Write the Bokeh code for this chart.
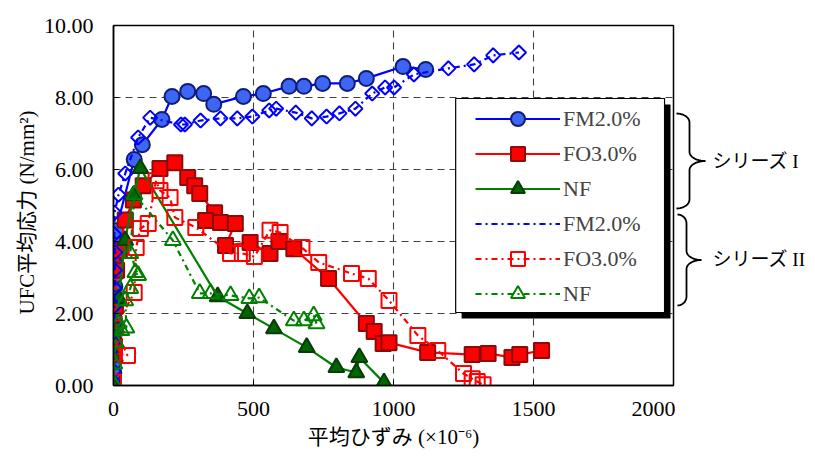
import numpy as np
from bokeh.plotting import figure
from bokeh.layouts import row
from bokeh.core.properties import value
from bokeh.models import (Range1d, Legend, LegendItem, BoxAnnotation,
                          NumeralTickFormatter, FixedTicker)
from bokeh.embed import file_html
from bokeh.resources import INLINE

# ---------------- data ----------------
x_ticks = [0, 500, 1000, 1500, 2000]
y_ticks = [0, 2, 4, 6, 8, 10]

fm1_x = [0, 1, 1, 2, 2, 3, 3, 4, 4, 5, 5, 6, 6, 7, 8, 74, 103, 173, 209, 265, 322, 358,
         464, 535, 627, 680, 747, 835, 903, 1034, 1115]
fm1_y = [0.05, 0.35, 0.65, 0.95, 1.25, 1.55, 1.85, 2.15, 2.45, 2.75, 3.05, 3.35, 3.65, 3.95,
         4.3, 6.28, 6.69, 7.39, 8.03, 8.17, 8.11, 7.81, 8.03, 8.11, 8.31, 8.31, 8.39, 8.39,
         8.53, 8.86, 8.78]

fo1_x = [0, 3, 7, 11, 21, 42, 71, 106, 166, 219, 265, 290, 308, 361, 329, 382, 435, 400,
         488, 559, 591, 644, 768, 903, 931, 963, 984, 1122, 1281, 1338, 1423, 1451, 1529]
fo1_y = [0.0, 1.1, 2.2, 3.2, 3.75, 4.6, 5.15, 5.55, 6.03, 6.19, 5.78, 5.55, 5.33, 4.8, 4.58,
         4.53, 4.5, 3.89, 3.97, 3.67, 4.0, 3.8, 2.97, 1.72, 1.5, 1.17, 1.19, 0.92, 0.86, 0.89,
         0.78, 0.86, 0.97]

nf1_x = [0, 5, 10, 18, 42, 71, 96, 372, 478, 573, 690, 796, 867, 878, 966]
nf1_y = [0.0, 0.8, 1.6, 2.42, 4.03, 5.28, 6.03, 2.47, 2.0, 1.58, 1.06, 0.5, 0.36, 0.78, 0.08]

fm2_x = [0, 1, 2, 2, 3, 3, 4, 5, 6, 3, 4, 18, 42, 88, 131, 241, 255, 311, 382, 442, 496,
         556, 581, 651, 708, 761, 807, 864, 924, 970, 1002, 1073, 1196, 1288, 1356, 1448]
fm2_y = [0.1, 0.4, 0.8, 1.2, 1.7, 2.2, 2.7, 3.2, 3.7, 4.2, 4.8, 5.3, 5.89, 6.89, 7.44, 7.25,
         7.25, 7.36, 7.42, 7.42, 7.47, 7.64, 7.69, 7.58, 7.42, 7.47, 7.56, 7.69, 8.11, 8.28,
         8.28, 8.64, 8.81, 8.92, 9.17, 9.25]

fo2_x = [0, 3, 50, 6, 74, 81, 96, 124, 152, 166, 202, 219, 294, 418, 460, 503, 559, 595,
         673, 733, 850, 910, 984, 1087, 1158, 1250, 1281, 1299, 1320]
fo2_y = [0.1, 0.9, 0.83, 1.6, 2.58, 3.83, 4.36, 4.5, 5.69, 5.42, 5.22, 4.67, 4.39, 3.67,
         3.67, 3.58, 4.31, 4.25, 3.83, 3.42, 3.11, 2.97, 2.36, 1.39, 0.97, 0.33, 0.19, 0.11,
         0.02]

nf2_x = [0, 3, 8, 18, 28, 46, 42, 60, 78, 88, 60, 75, 212, 308, 347, 418, 485, 520, 644,
         680, 715, 725]
nf2_y = [0.05, 0.6, 1.2, 1.72, 1.53, 1.6, 2.36, 2.7, 3.14, 3.06, 3.67, 5.3, 4.03, 2.56,
         2.56, 2.5, 2.42, 2.44, 1.8, 1.8, 1.94, 1.72]

labels = ["FM2.0%", "FO3.0%", "NF", "FM2.0%", "FO3.0%", "NF"]
series_names = ["シリーズ I", "シリーズ II"]
x_label = "平均ひずみ (×10⁻⁶)"
y_label = "UFC平均応力 (N/mm²)"

# ---------------- layout ----------------
H = 458
W0 = 40                     # left panel holding the y-axis title
FRAME_LEFT, MT = 110, 25    # page position of the plotting frame
FW, FH = 563, 360
ML = FRAME_LEFT - W0
MR = 2
MB = H - MT - FH
W1 = ML + FW + MR
W2 = 130

SERIF = "'Liberation Serif', 'Noto Sans CJK JP'"

p = figure(width=W1, height=H, x_range=Range1d(0, 2000), y_range=Range1d(0, 10),
           output_backend="svg", toolbar_location=None,
           min_border_left=ML, min_border_right=MR, min_border_top=MT, min_border_bottom=MB,
           x_axis_label=x_label)

PX0, PY0 = FRAME_LEFT, MT
SX = FW / 2000.0
SY = FH / 10.0
def dx(px):
    return (px - PX0) / SX
def dy(py):
    return (PY0 + FH - py) / SY

p.outline_line_color = "black"
p.outline_line_width = 1.5
p.background_fill_color = "white"
p.border_fill_color = "white"

for g in (p.xgrid, p.ygrid):
    g.grid_line_color = "#404040"
    g.grid_line_dash = "7 5"
    g.grid_line_width = 1.1
p.xaxis.ticker = FixedTicker(ticks=x_ticks)
p.yaxis.ticker = FixedTicker(ticks=y_ticks)
p.xgrid.ticker = FixedTicker(ticks=x_ticks)
p.ygrid.ticker = FixedTicker(ticks=y_ticks)
p.yaxis.formatter = NumeralTickFormatter(format="0.00")

for ax in (p.xaxis[0], p.yaxis[0]):
    ax.major_label_text_font = SERIF
    ax.major_label_text_font_size = "22px"
    ax.major_label_text_color = "black"
    ax.major_tick_in = 5
    ax.major_tick_out = 0
    ax.minor_tick_in = 0
    ax.minor_tick_out = 0
    ax.axis_line_color = "black"
    ax.axis_line_width = 1.5
    ax.major_tick_line_color = "black"
    ax.axis_label_text_font = SERIF
    ax.axis_label_text_font_size = "21px"
    ax.axis_label_text_font_style = "normal"
    ax.axis_label_text_color = "black"
p.xaxis.major_label_standoff = 16
p.yaxis.major_label_standoff = 20
p.xaxis.axis_label_standoff = 6

DASH = "6 4 2 4"

def series(x, y, color, marker, size, fill, mline, dash="solid", angle=0.0, fill_alpha=1.0):
    lr = p.line(x, y, line_color=color, line_width=2.2, line_dash=dash)
    sr = p.scatter(x, y, marker=marker, size=size, fill_color=fill, fill_alpha=fill_alpha,
                   line_color=mline, line_width=2, angle=angle)
    return [lr, sr]

r1 = series(fm1_x, fm1_y, "#0000FF", "circle", 15, "#3D66F5", "#101C78")
r2 = series(fo1_x, fo1_y, "#FF0000", "square", 15, "#FF0000", "#8B0A0A")
r3 = series(nf1_x, nf1_y, "#008000", "triangle", 16, "#006400", "#0A3A0A")
r4 = series(fm2_x, fm2_y, "#0000FF", "square", 10, "white", "#0000FF", DASH,
            angle=np.pi / 4, fill_alpha=0.0)
r5 = series(fo2_x, fo2_y, "#FF0000", "square", 15, "white", "#FF0000", DASH, fill_alpha=0.0)
r6 = series(nf2_x, nf2_y, "#008000", "triangle", 16, "white", "#008000", DASH, fill_alpha=0.0)

# legend-only diamond sample (the legend draws markers without rotation)
r4_leg = p.scatter([], [], marker="diamond", size=15, fill_color="white", line_color="#0000FF",
                   line_width=2)

# legend box with shadow
shadow = BoxAnnotation(left=dx(460), right=dx(670), top=dy(104), bottom=dy(318),
                       fill_color="black", fill_alpha=1.0, line_alpha=0.0)
lbox = BoxAnnotation(left=dx(454), right=dx(664), top=dy(98), bottom=dy(312),
                     fill_color="white", fill_alpha=1.0, line_color="black",
                     line_width=1.2, line_alpha=1.0)
p.add_layout(shadow)
p.add_layout(lbox)

rend_sets = [r1, r2, r3, [r4[0], r4_leg], r5, r6]
items = [LegendItem(label=l, renderers=r) for l, r in zip(labels, rend_sets)]
leg = Legend(items=items, location=(472 - PX0, PY0 + FH - 311), glyph_width=85,
             glyph_height=35, label_height=35, spacing=0, padding=0, margin=0,
             label_standoff=3, label_text_font=SERIF, label_text_font_size="22px",
             border_line_alpha=0.0, background_fill_alpha=0.0)
p.add_layout(leg)

def side_panel(x0, width):
    # frame is aligned with the main frame by the row layout; coordinates = page pixels
    f = figure(width=width, height=H, x_range=Range1d(x0, x0 + width),
               y_range=Range1d(PY0 + FH, PY0), output_backend="svg", toolbar_location=None,
               min_border_left=0, min_border_right=0, min_border_top=MT, min_border_bottom=MB)
    f.axis.visible = False
    f.grid.visible = False
    f.outline_line_color = None
    f.background_fill_color = "white"
    f.border_fill_color = "white"
    return f

# ---------------- left panel: y-axis title ----------------
p0 = side_panel(0, W0)
p0.text(x=[26], y=[212], text=[y_label], text_font=value(SERIF), text_font_size="21px",
        text_baseline="middle", text_align="center", angle=np.pi / 2, text_color="black")

# ---------------- right panel: braces and series names ----------------
p2 = side_panel(W0 + W1, W2)

def brace(x_tail, x_vert, x_tip, y_top, y_bot):
    ym = (y_top + y_bot) / 2.0
    r = 9.0
    t = np.linspace(0, np.pi / 2, 12)
    xs, ys = [], []
    for a in t:
        xs.append(x_tail + (x_vert - x_tail) * np.sin(a)); ys.append(y_top + r * (1 - np.cos(a)))
    for a in t:
        xs.append(x_vert + (x_tip - x_vert) * (1 - np.cos(a))); ys.append(ym - r + r * np.sin(a))
    for a in t[::-1]:
        xs.append(x_vert + (x_tip - x_vert) * (1 - np.cos(a))); ys.append(ym + r - r * np.sin(a))
    for a in t[::-1]:
        xs.append(x_tail + (x_vert - x_tail) * np.sin(a)); ys.append(y_bot - r * (1 - np.cos(a)))
    return xs, ys

b1 = brace(676, 689, 705, 113, 208)
b2 = brace(677, 686, 701, 214, 305)
p2.multi_line([b1[0], b2[0]], [b1[1], b2[1]], line_color="black", line_width=1.8)
p2.text(x=[712, 712], y=[161, 259], text=series_names, text_font=value(SERIF),
        text_font_size="19px", text_baseline="middle", text_align="left", text_color="black")

open("out.html", "w").write(file_html(row(p0, p, p2), INLINE))
